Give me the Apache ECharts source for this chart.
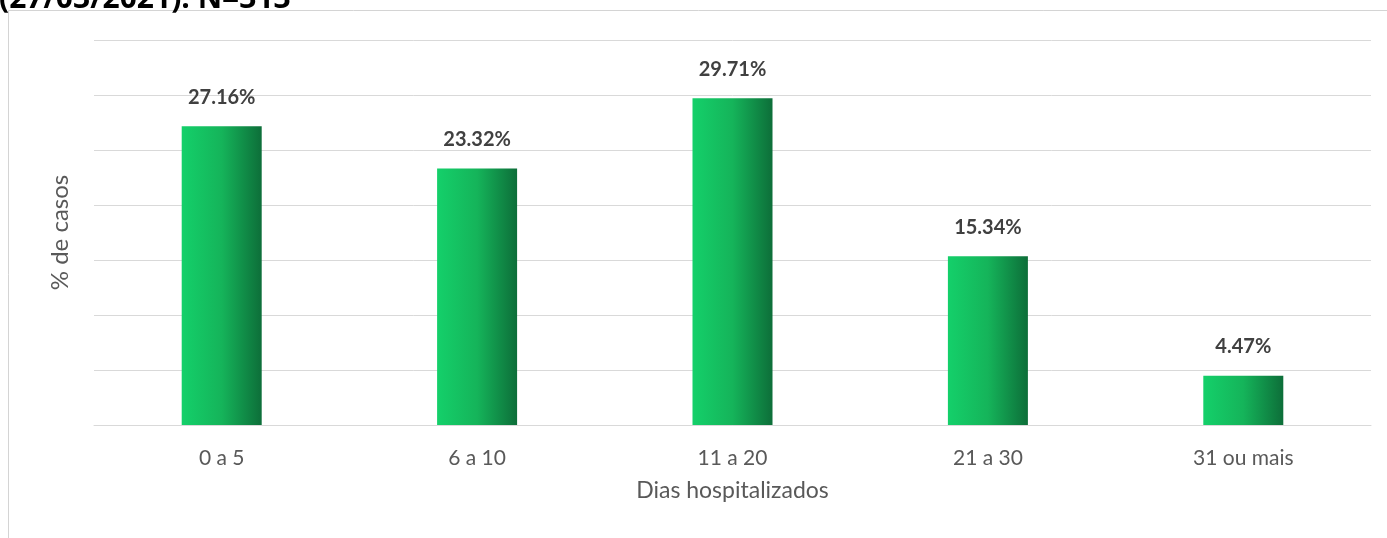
<!DOCTYPE html>
<html>
<head>
<meta charset="utf-8">
<script src="https://cdn.jsdelivr.net/npm/echarts@6/dist/echarts.min.js"></script>
<style>
html,body{margin:0;padding:0;background:#fff;}
#chart{width:1387px;height:538px;}
</style>
</head>
<body>
<div id="chart"></div>
<script>
var categories = ['0 a 5', '6 a 10', '11 a 20', '21 a 30', '31 ou mais'];
var values = [27.16, 23.32, 29.71, 15.34, 4.47];
var titleText = '(27/03/2021). N=313';
var xAxisName = 'Dias hospitalizados';
var yAxisName = '% de casos';

var chart = echarts.init(document.getElementById('chart'), null, {renderer: 'canvas'});
var font = 'Lato, "Open Sans", sans-serif';
chart.setOption({
  animation: false,
  backgroundColor: '#fff',
  graphic: [
    {type: 'rect', shape: {x: 8.5, y: 10.5, width: 1400, height: 600}, style: {fill: '#fff', stroke: '#d4d4d4', lineWidth: 1}, z: -10},
    {type: 'text', left: -1, top: -16, style: {text: titleText, font: 'bold 30px "Open Sans", sans-serif', fill: '#000'}}
  ],
  grid: {left: 94, right: 16, top: 40, bottom: 113},
  xAxis: {
    type: 'category',
    data: categories,
    axisLine: {lineStyle: {color: '#d9d9d9'}},
    axisTick: {show: false},
    axisLabel: {color: '#595959', fontSize: 21, fontFamily: font, margin: 23},
    name: xAxisName,
    nameLocation: 'middle',
    nameGap: 54,
    nameTextStyle: {color: '#595959', fontSize: 23, fontFamily: font}
  },
  yAxis: {
    type: 'value',
    min: 0, max: 35, interval: 5,
    axisLabel: {show: false},
    axisLine: {show: false},
    axisTick: {show: false},
    splitLine: {lineStyle: {color: '#d9d9d9'}},
    name: yAxisName,
    nameLocation: 'middle',
    nameGap: 22,
    nameRotate: 90,
    nameTextStyle: {color: '#595959', fontSize: 24, fontFamily: font}
  },
  series: [{
    type: 'bar',
    data: values,
    barWidth: 80,
    itemStyle: {
      color: new echarts.graphic.LinearGradient(0, 0, 1, 0, [
        {offset: 0, color: '#14d06a'},
        {offset: 0.5, color: '#15b45a'},
        {offset: 1, color: '#0d6e39'}
      ])
    },
    label: {
      show: true,
      position: 'top',
      distance: 19,
      formatter: function (p) { return p.value.toFixed(2) + '%'; },
      color: '#404040',
      fontSize: 20,
      fontWeight: 'bold',
      fontFamily: font
    }
  }]
});
</script>
</body>
</html>
